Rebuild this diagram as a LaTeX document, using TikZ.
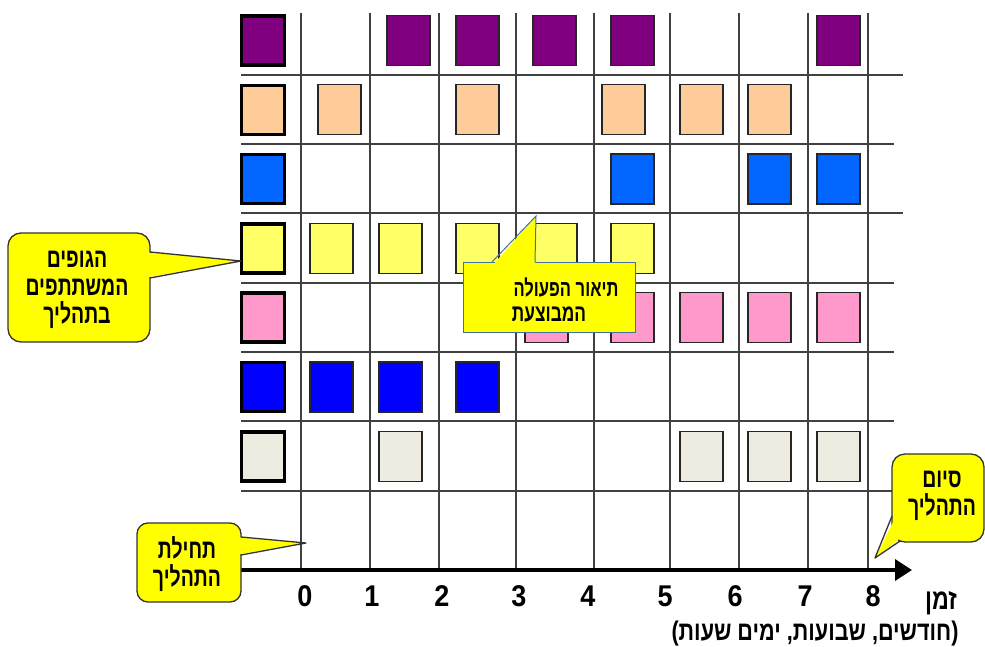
\documentclass[tikz,border=0pt]{standalone}
\usepackage{fontspec}
\setmainfont{Liberation Sans}
\newfontfamily\hebn[Script=Hebrew, FakeStretch=0.72]{Liberation Sans}
\newfontfamily\hebm[Script=Hebrew, FakeStretch=0.8]{Liberation Sans}
\newfontfamily\numf[FakeStretch=0.9]{Liberation Sans}
\TeXXeTstate=1
\usetikzlibrary{arrows.meta}
\definecolor{cPurple}{HTML}{800080}
\definecolor{cPeach}{HTML}{FFCC99}
\definecolor{cBlueA}{HTML}{0066FF}
\definecolor{cLYellow}{HTML}{FFFF66}
\definecolor{cPink}{HTML}{FF99CC}
\definecolor{cBlueB}{HTML}{0000FF}
\definecolor{cBeige}{HTML}{EEECE1}
\definecolor{cCall}{HTML}{FFFF00}
\definecolor{cGrid}{HTML}{404040}
\definecolor{cEdge}{HTML}{41719C}
\tikzset{
  gridline/.style={draw=cGrid, line width=2pt},
  act/.style={draw=black!85, line width=1.4pt, minimum width=43pt, minimum height=50pt, inner sep=0pt, outer sep=0pt},
  legsq/.style={draw=black, line width=3.5pt, minimum width=43pt, minimum height=49pt, inner sep=0pt, outer sep=0pt},
  callbody/.style={fill=cCall, draw=black!80, line width=1.3pt},
  hebtxt/.style={font=\hebm\bfseries\fontsize{27}{30}\selectfont, inner sep=0pt, align=center},
  calltxt/.style={font=\hebn\bfseries\fontsize{27}{28}\selectfont, inner sep=0pt, align=center},
  numtxt/.style={font=\numf\bfseries\fontsize{30}{32}\selectfont, inner sep=0pt}
}
\begin{document}
\begin{tikzpicture}[x=1pt,y=-1pt]
\useasboundingbox (0,0) rectangle (985,647);
\fill[white] (0,0) rectangle (985,647);
% grid
\foreach \x in {301,370,439,516,594,670,739,808,868}
  \draw[gridline] (\x,13) -- (\x,570);
\foreach \y/\e in {75/903,144/894,213/903,283/894,352/894,421/894,491/894}
  \draw[gridline] (241,\y) -- (\e,\y);
% legend squares
\foreach \c [count=\i] in {cPurple,cPeach,cBlueA,cLYellow,cPink,cBlueB,cBeige}
  \node[legsq, fill=\c] (leg\i) at (263,{40.5+(\i-1)*69.3}) {};
% activity squares
\foreach \x [count=\i] in {387,456,533,611,817}
  \node[act, fill=cPurple] (ra\i) at (\x+21.5,40.5) {};
\foreach \x [count=\i] in {318,456,602,680,748}
  \node[act, fill=cPeach] (rb\i) at (\x+21.5,109.8) {};
\foreach \x [count=\i] in {611,748,817}
  \node[act, fill=cBlueA] (rc\i) at (\x+21.5,179.1) {};
\foreach \x [count=\i] in {310,379,456,534,611}
  \node[act, fill=cLYellow] (rd\i) at (\x+21.5,248.4) {};
\foreach \x [count=\i] in {525,611,680,748,817}
  \node[act, fill=cPink] (re\i) at (\x+21.5,317.7) {};
\foreach \x [count=\i] in {310,379,456}
  \node[act, fill=cBlueB] (rf\i) at (\x+21.5,387) {};
\foreach \x [count=\i] in {379,680,748,817}
  \node[act, fill=cBeige] (rg\i) at (\x+21.5,456.3) {};
% time axis
\coordinate (axs) at (241,570);
\coordinate (axe) at (912,570);
\draw[line width=3.5pt, -{Triangle[length=17pt,width=21pt]}] (axs) -- (axe);
\foreach \n/\x in {0/305,1/372,2/442,3/519,4/588,5/665,6/735,7/805,8/873}
  \node[numtxt] (n\n) at (\x,596) {\n};
\node[hebtxt, font=\hebm\bfseries\fontsize{29}{30}\selectfont] (zman) at (941,603) {\beginR זמן\endR};
\node[hebtxt] (units) at (815,634) {\beginR(חודשים, שבועות, ימים שעות)\endR};
% callout 1
\coordinate (t1) at (241,261);
\draw[callbody, rounded corners=13pt] (8,233) rectangle (150,342);
\fill[cCall] (144,252) -- (t1) -- (144,278) -- cycle;
\draw[draw=black!80, line width=1.3pt, line join=round] (150,252) -- (t1) -- (150,278);
\node[calltxt] (gtxt) at (77,290) {\beginR הגופים\endR\\\beginR המשתתפים\endR\\\beginR בתהליך\endR};
% callout 2
\coordinate (t2) at (536,216);
\draw[fill=cCall, draw=cEdge, line width=1pt] (463,262) rectangle (635,332);
\fill[cCall] (492,266) -- (t2) -- (535,266) -- cycle;
\draw[draw=cEdge, line width=1pt] (492,262) -- (t2) -- (535,262);
\node[calltxt, font=\hebn\bfseries\fontsize{23}{27}\selectfont] (ta) at (566,287) {\beginR תיאור הפעולה\endR};
\node[calltxt, font=\hebn\bfseries\fontsize{24}{27}\selectfont] (tb) at (549,314) {\beginR המבוצעת\endR};
% callout 3
\coordinate (t3) at (306,543);
\draw[callbody, rounded corners=11pt] (137,523) rectangle (241,602);
\fill[cCall] (235,537) -- (t3) -- (235,555) -- cycle;
\draw[draw=black!80, line width=1.3pt, line join=round] (241,537) -- (t3) -- (241,555);
\node[calltxt] (start) at (187,564) {\beginR תחילת\endR\\\beginR התהליך\endR};
% callout 4
\coordinate (t4) at (875,558);
\draw[callbody, rounded corners=13pt] (892,454) rectangle (984,542);
\fill[cCall] (898,512) -- (t4) -- (903,536) -- cycle;
\draw[draw=black!80, line width=1.3pt, line join=round] (892,516) -- (t4) -- (900,541);
\node[calltxt] (fin) at (942,496) {\beginR סיום\endR\\\beginR התהליך\endR};
\end{tikzpicture}
\end{document}
